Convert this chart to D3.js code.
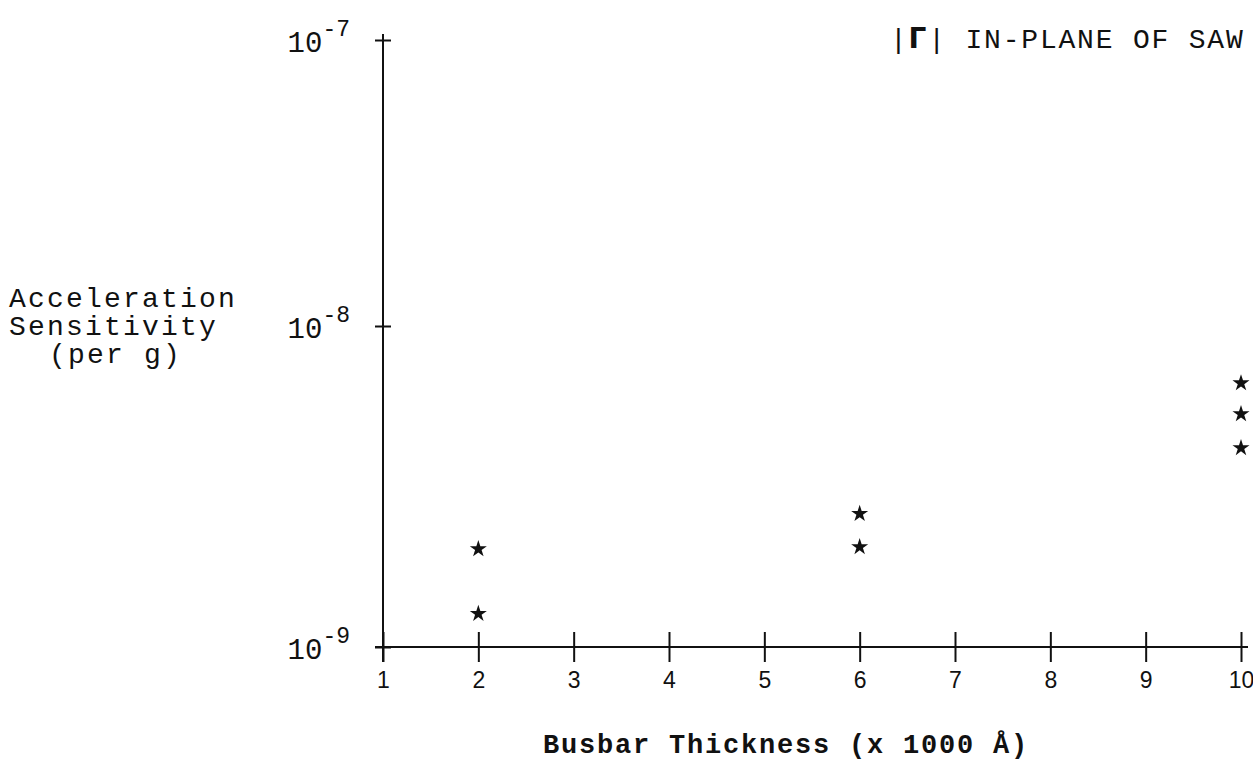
<!DOCTYPE html>
<html>
<head>
<meta charset="utf-8">
<script src="https://cdn.jsdelivr.net/npm/d3@7"></script>
<style>
  body { margin: 0; background: #fff; }
  text { font-family: "Liberation Mono", "DejaVu Sans Mono", monospace; fill: #111; }
</style>
</head>
<body>
<script>
// busbar thickness (x 1000 A) and measured |Gamma| sensitivity
var thickness = [2, 2, 6, 6, 10, 10, 10];
var sensitivity = [2.02e-9, 1.27e-9, 2.6e-9, 2.05e-9, 6.64e-9, 5.32e-9, 4.17e-9];
var xTicks = [1, 2, 3, 4, 5, 6, 7, 8, 9, 10];
var yTicks = [1e-9, 1e-8, 1e-7];
var yExp = {"1e-9": "-9", "1e-8": "-8", "1e-7": "-7"};

var w = 1253, h = 766;
var svg = d3.select("body").append("svg")
            .attr("width", w)
            .attr("height", h);

var x = d3.scaleLinear().domain([1, 10]).range([383, 1241]);
// the scanned plot has unequal decades, so use a piecewise log scale
var y = d3.scaleLog().domain([1e-9, 1e-8, 1e-7]).range([647, 326, 40]);

// axis lines
svg.append("line")
   .attr("x1", 383).attr("x2", 383)
   .attr("y1", 34).attr("y2", 662)
   .attr("stroke", "#111").attr("stroke-width", 2);
svg.append("line")
   .attr("x1", 375).attr("x2", 1248)
   .attr("y1", 647).attr("y2", 647)
   .attr("stroke", "#111").attr("stroke-width", 2);

// x ticks (crossing the axis)
var xa = svg.append("g")
            .attr("transform", "translate(0,647)")
            .call(d3.axisBottom(x).tickValues(xTicks).tickSize(15).tickSizeOuter(0).tickFormat(d3.format("d")));
xa.select(".domain").remove();
xa.selectAll(".tick line").attr("y1", -15).attr("stroke", "#111").attr("stroke-width", 2);
xa.selectAll(".tick text")
  .attr("y", 41).attr("dy", 0)
  .style("font-size", "23px")
  .style("font-family", "'Liberation Sans', sans-serif");

// y ticks
var ya = svg.append("g")
            .attr("transform", "translate(383,0)")
            .call(d3.axisLeft(y).tickValues(yTicks).tickSize(8).tickSizeOuter(0).tickFormat(""));
ya.select(".domain").remove();
ya.selectAll(".tick line").attr("x2", 8).attr("x1", -8).attr("stroke", "#111").attr("stroke-width", 2);

var yl = svg.append("g").selectAll("text")
            .data(yTicks)
            .enter().append("text")
            .attr("x", 350)
            .attr("y", function(d) { return y(d) + 12; })
            .attr("text-anchor", "end")
            .style("font-size", "29px");
yl.append("tspan").text("10");
yl.append("tspan")
  .attr("dy", -16)
  .style("font-size", "23px")
  .text(function(d) { return yExp[String(d)]; });

// points
svg.append("g").selectAll("path")
   .data(thickness)
   .enter().append("path")
   .attr("d", d3.symbol(d3.symbolStar).size(90))
   .attr("transform", function(d, i) { return "translate(" + x(d) + "," + y(sensitivity[i]) + ")"; })
   .attr("fill", "#111");

// y axis title
var ylab = ["Acceleration", "Sensitivity", "(per g)"];
svg.append("g").selectAll("text")
   .data(ylab)
   .enter().append("text")
   .attr("x", function(d, i) { return i == 2 ? 49 : 9; })
   .attr("y", function(d, i) { return 307 + i * 28; })
   .style("font-size", "28px")
   .style("letter-spacing", "2.2px")
   .text(function(d) { return d; });

// x axis title
svg.append("text")
   .attr("x", 543).attr("y", 753)
   .style("font-size", "27px")
   .style("font-weight", "bold")
   .style("letter-spacing", "1.8px")
   .text("Busbar Thickness (x 1000 Å)");

// plot label
var t = svg.append("text")
           .attr("x", 890).attr("y", 48)
           .style("font-size", "28px")
           .style("letter-spacing", "1.8px");
t.append("tspan").text("|");
t.append("tspan").style("font-weight", "bold").style("font-family", "'DejaVu Sans'").text("Γ");
t.append("tspan").text("| IN-PLANE OF SAW");
</script>
</body>
</html>
